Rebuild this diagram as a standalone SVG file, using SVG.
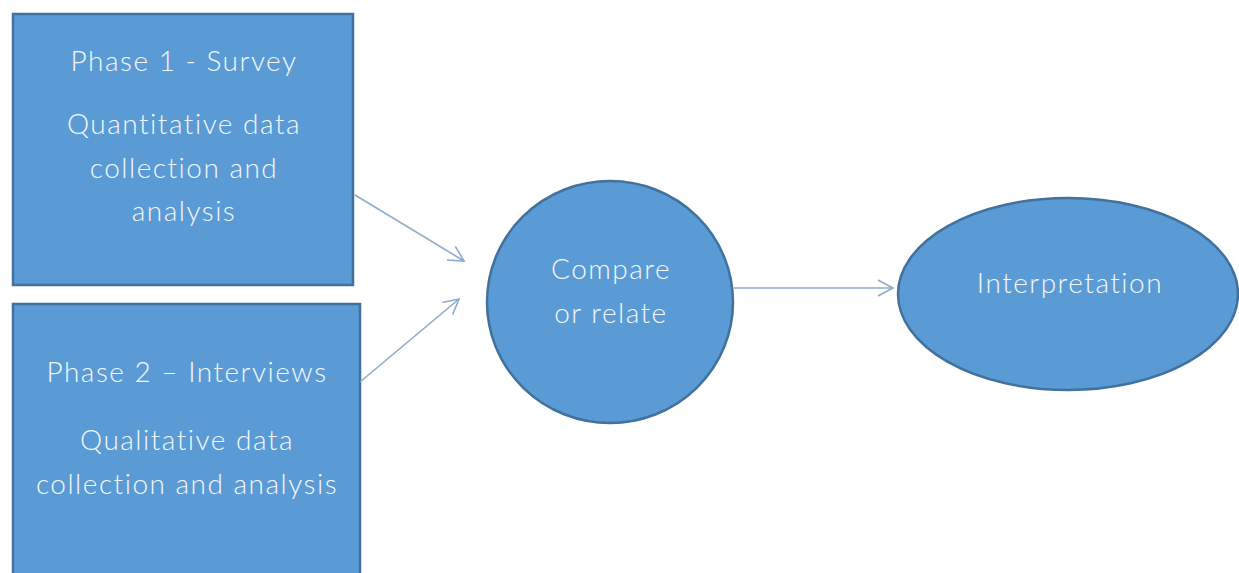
<svg xmlns="http://www.w3.org/2000/svg" width="1239" height="573" viewBox="0 0 1239 573">
<style>
.shape{fill:#5b9bd5;stroke:#41719c;stroke-width:2.5}
.t{font-family:"Lato","Open Sans","Liberation Sans",sans-serif;font-weight:300;font-size:28px;letter-spacing:1.5px;fill:#f4f7fb;text-anchor:middle}
.c{fill:none;stroke:#8eabcb;stroke-width:1.6}
</style>
<defs>
<marker id="ah" viewBox="0 0 12 12" refX="11" refY="6" markerWidth="12" markerHeight="12" markerUnits="userSpaceOnUse" orient="auto" overflow="visible">
<path d="M-4,-2 L11,6 L-4,14" fill="none" stroke="#8eabcb" stroke-width="1.6"/>
</marker>
</defs>
<rect width="1239" height="573" fill="#ffffff"/>
<g id="phase1">
<rect class="shape" x="13" y="14" width="340" height="271"/>
<text class="t" x="184" y="71">Phase 1 - Survey</text>
<text class="t" x="184" y="134">Quantitative data</text>
<text class="t" x="184" y="178">collection and</text>
<text class="t" x="184" y="221">analysis</text>
</g>
<g id="phase2">
<rect class="shape" x="13" y="304" width="347" height="290"/>
<text class="t" x="187" y="382">Phase 2 – Interviews</text>
<text class="t" x="187" y="450">Qualitative data</text>
<text class="t" x="187" y="494">collection and analysis</text>
</g>
<g id="compare">
<ellipse class="shape" cx="610" cy="302" rx="123" ry="121"/>
<text class="t" x="611" y="279">Compare</text>
<text class="t" x="611" y="323">or relate</text>
</g>
<g id="interpretation">
<ellipse class="shape" cx="1068" cy="294" rx="170" ry="96"/>
<text class="t" x="1070" y="293">Interpretation</text>
</g>
<g id="connectors">
<line class="c" x1="355" y1="195" x2="464" y2="261" marker-end="url(#ah)"/>
<line class="c" x1="360" y1="382" x2="459" y2="299" marker-end="url(#ah)"/>
<line class="c" x1="734" y1="288" x2="893" y2="288" marker-end="url(#ah)"/>
</g>
</svg>
